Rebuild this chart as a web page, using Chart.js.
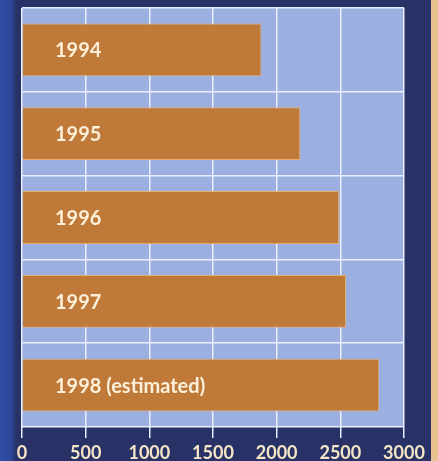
<!DOCTYPE html>
<html>
<head>
<meta charset="utf-8">
<script src="https://cdn.jsdelivr.net/npm/chart.js@4/dist/chart.umd.min.js"></script>
<style>
  html, body { margin: 0; padding: 0; background: #283164; }
  #wrap { width: 438px; height: 461px; position: relative; }
</style>
</head>
<body>
<div id="wrap"><canvas id="c" width="438" height="461"></canvas></div>
<script>
const categories = ["1994", "1995", "1996", "1997", "1998 (estimated)"];
const values = [1880, 2185, 2490, 2545, 2805];
const xTicks = [0, 500, 1000, 1500, 2000, 2500, 3000];

const backdrop = {
  id: 'backdrop',
  beforeDraw(chart) {
    const ctx = chart.ctx, W = chart.width, H = chart.height, a = chart.chartArea;
    ctx.save();
    ctx.fillStyle = '#283266';
    ctx.fillRect(0, 0, W, H);
    const g = ctx.createLinearGradient(0, 0, 16, 0);
    g.addColorStop(0, '#2f4ea6');
    g.addColorStop(0.7, '#2c469a');
    g.addColorStop(1, '#283266');
    ctx.fillStyle = g;
    ctx.fillRect(0, 0, 16, H);
    ctx.fillStyle = '#e9c38f';
    ctx.fillRect(431, 0, W - 431, H);
    ctx.fillStyle = '#9bafe0';
    ctx.fillRect(a.left, a.top, a.right - a.left, a.bottom - a.top);
    ctx.restore();
  }
};

const barLabels = {
  id: 'barLabels',
  afterDatasetsDraw(chart) {
    const ctx = chart.ctx;
    const meta = chart.getDatasetMeta(0);
    ctx.save();
    ctx.font = 'bold 20px Lato, "Open Sans", sans-serif';
    ctx.fillStyle = '#fcf0da';
    ctx.textAlign = 'left';
    ctx.textBaseline = 'middle';
    meta.data.forEach((el, i) => {
      ctx.fillText(categories[i], 55, el.y + 1);
    });
    ctx.restore();
  }
};

new Chart(document.getElementById('c'), {
  type: 'bar',
  data: {
    labels: categories,
    datasets: [{
      data: values,
      backgroundColor: '#bf7a39',
      borderColor: '#e6ae6e',
      borderWidth: 1,
      barPercentage: 0.63,
      categoryPercentage: 1.0
    }]
  },
  options: {
    indexAxis: 'y',
    responsive: false,
    animation: false,
    devicePixelRatio: 1,
    layout: { padding: { left: 22, right: 34, top: 8, bottom: 0 } },
    plugins: { legend: { display: false }, tooltip: { enabled: false } },
    scales: {
      x: {
        type: 'linear',
        min: 0,
        max: 3000,
        afterBuildTicks(scale) { scale.ticks = xTicks.map(v => ({ value: v })); },
        afterFit(scale) { scale.height = 34; },
        grid: { color: '#e9efff', lineWidth: 1.5, tickLength: 11, drawTicks: true },
        border: { display: false },
        ticks: {
          color: '#f4e6c6',
          font: { family: 'Lato, "Open Sans", sans-serif', weight: 'bold', size: 18, lineHeight: 1.0 },
          padding: 6,
          maxRotation: 0,
          autoSkip: false,
          callback: (v) => String(v)
        }
      },
      y: {
        type: 'category',
        offset: true,
        grid: { color: '#e9efff', lineWidth: 1.5, offset: true, drawTicks: false },
        border: { display: false },
        ticks: { display: false }
      }
    }
  },
  plugins: [backdrop, barLabels]
});
</script>
</body>
</html>
